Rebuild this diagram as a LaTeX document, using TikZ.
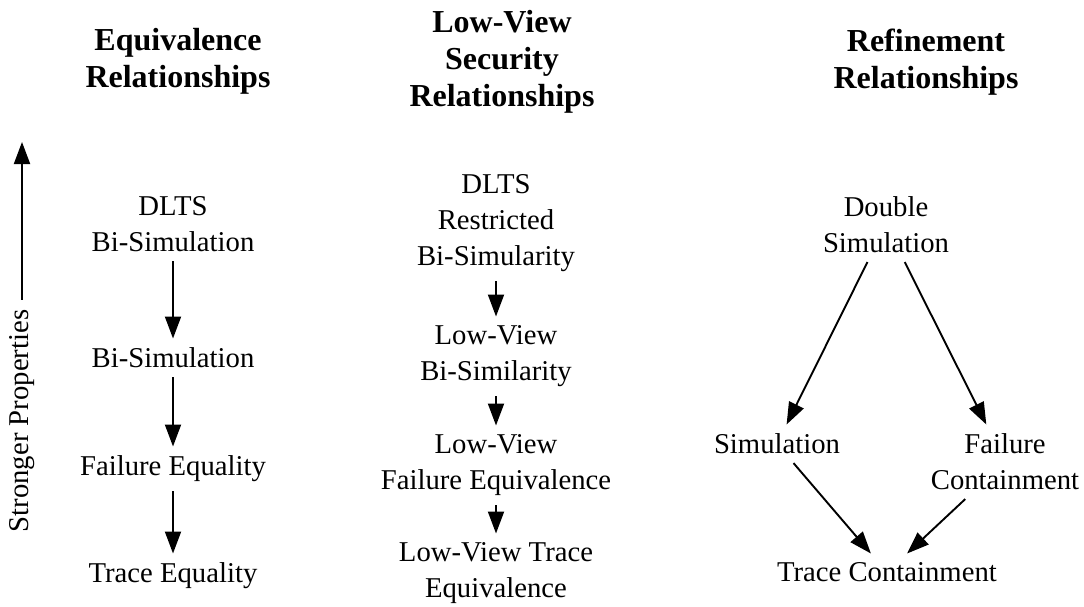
\documentclass[tikz,border=0pt]{standalone}
\usepackage{fontspec}
\setmainfont{Liberation Serif}
\usetikzlibrary{arrows.meta}
\begin{document}
\begin{tikzpicture}[x=1pt,y=-1pt,
  lbl/.style={font=\fontsize{28.7}{36}\selectfont, align=center, inner sep=9pt, anchor=north},
  hdr/.style={font=\bfseries\fontsize{32}{37}\selectfont, align=center, inner sep=0pt, anchor=north},
  arr/.style={-{Triangle[length=22pt,width=16pt]}, line width=1.9pt}]
\useasboundingbox (0,0) rectangle (1084,607);

% headers
\node[hdr] (h1) at (178,28.4) {Equivalence\\Relationships};
\node[hdr] (h2) at (502,10.4) {Low-View\\Security\\Relationships};
\node[hdr] (h3) at (926,28.4) {Refinement\\Relationships};

% left column
\node[lbl] (a1) at (173,187.5) {DLTS\\Bi-Simulation};
\node[lbl] (a2) at (173,338.5) {Bi-Simulation};
\node[lbl] (a3) at (173,446.5) {Failure Equality};
\node[lbl] (a4) at (173,553.5) {Trace Equality};
\draw[arr] (a1) -- (a2);
\draw[arr] (a2) -- (a3);
\draw[arr] (a3) -- (a4);

% middle column
\node[lbl] (b1) at (496,165.5) {DLTS\\Restricted\\Bi-Simularity};
\node[lbl] (b2) at (496,316.5) {Low-View\\Bi-Similarity};
\node[lbl] (b3) at (496,425.5) {Low-View\\Failure Equivalence};
\node[lbl] (b4) at (496,533.5) {Low-View Trace\\Equivalence};
\draw[arr] (b1) -- (b2);
\draw[arr] (b2) -- (b3);
\draw[arr] (b3) -- (b4);

% right column
\node[lbl] (c1) at (886,187.5) {Double\\Simulation};
\node[lbl] (c2) at (777,424.5) {Simulation};
\node[lbl] (c3) at (1005,424.5) {Failure\\Containment};
\node[lbl] (c4) at (887,553.5) {Trace Containment};
\draw[arr] (c1) -- (c2);
\draw[arr] (c1) -- (c3);
\draw[arr] (c2) -- (c4);
\draw[arr] (c3) -- (c4);

% stronger properties
\node[font=\fontsize{28.7}{36}\selectfont, rotate=90, inner sep=10pt] (sp) at (22,421) {Stronger Properties};
\coordinate (lvl) at (0,142);
\coordinate (sptop) at (sp.east |- lvl);
\draw[arr] (sp.east) -- (sptop);
\end{tikzpicture}
\end{document}
